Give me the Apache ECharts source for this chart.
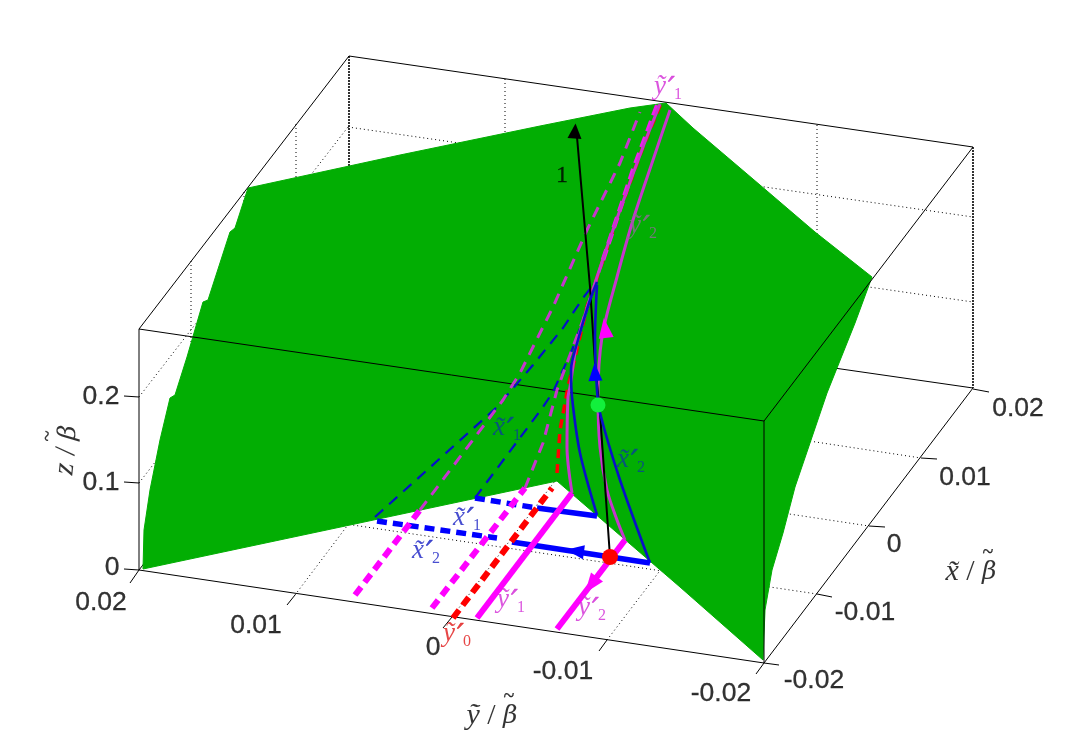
<!DOCTYPE html>
<html><head><meta charset="utf-8">
<style>html,body{margin:0;padding:0;background:#fff}#c{width:1076px;height:744px}</style>
<script src="https://cdn.jsdelivr.net/npm/echarts@6/dist/echarts.min.js"></script>
</head><body><div id="c"></div>
<script>
// All readings are in picture coordinates of the projected 3-D view.
const surfaceOutline = [[143,569],[144,530],[150,490],[160,440],[170,398],[175,395],[187,357],[203,302],[208,300],[230,232],[235,228],[248,188],[400,155],[540,126],[630,108],[666,103],[693,128],[760,185],[815,232],[872,277],[855,323],[837,368],[827,393],[810,443],[795,487],[783,533],[772,570],[765,610],[763,660],[680,587],[557,481]];

const boxBack = [[[348,298],[973,388]],[[348,298],[139,570]]];
const boxFront = [[[139,570],[764,663]],[[764,663],[973,388]],[[139,570],[139,329]],[[139,329],[764,421]],[[764,421],[764,663]],[[764,421],[973,147]],[[139,329],[349,56]],[[349,56],[973,147]]];
const boxDense = [[[349,56],[349,298]],[[973,147],[973,388]]];
const gridDotted = [
 [[139,483],[348,212]],[[139,397],[348,127]],[[348,212],[973,302]],[[348,127],[973,217]],
 [[191,261],[191,501]],[[244,192],[244,432]],[[296,124],[296,363]],
 [[505,79],[505,318]],[[661,101],[661,341]],[[817,125],[817,365]],
 [[191,501],[817,594]],[[244,432],[869,526]],[[296,363],[921,458]],
 [[295,595],[504,318]],[[452,617],[661,341]],[[607,640],[817,365]]];
const tickSegments = [
 [[139,570],[124,569]],[[139,483],[124,482]],[[139,397],[124,396]],
 [[139,570],[130,583]],[[295,595],[287,605]],[[452,617],[443,628]],[[607,640],[599,651]],[[764,663],[756,674]],
 [[764,663],[779,665]],[[817,594],[832,597]],[[869,526],[885,527]],[[921,458],[937,459]],[[973,389],[989,392]]];

const zTickLabels = [[101,397,'0.2'],[101,483,'0.1'],[112,568,'0']];
const yTickLabels = [[101,603,'0.02'],[256,626,'0.01'],[433,648,'0'],[563,672,'-0.01'],[721,694,'-0.02']];
const xTickLabels = [[1018,409,'0.02'],[965,478,'0.01'],[894,545,'0'],[865,613,'-0.01'],[814,681,'-0.02']];

const x2FloorDashed = [[377,521],[497,538]];
const x2FloorSolid = [[512,542],[650,563]];
const x1FloorDashed = [[475,498],[537,508]];
const x1FloorSolid = [[537,508],[597,516]];
const x2Curve = [[650,563],[620,480],[600,413],[597,390],[595,337],[597,285]];
const x1Curve = [[597,515],[580,453],[572,397],[571,370],[578,340],[590,300],[597,282]];
const x2Dashed = [[375,517],[497,407],[533,365],[563,328],[583,298],[597,280]];
const x1Dashed = [[475,498],[543,407],[553,392],[572,350],[587,310],[597,280]];

const y1Floor = [[477,618],[572,493]];
const y2Floor = [[557,629],[625,540]];
const y1Curve = [[572,493],[567,447],[568,397],[570,387],[577,343],[597,277],[620,210],[643,147],[660,104]];
const y2Curve = [[625,540],[617,520],[607,490],[600,447],[598,397],[602,337],[617,277],[633,220],[653,160],[670,110]];
const yaFloor = [[355,595],[420,510]];
const yaDashed = [[420,510],[503,400],[520,373],[553,307],[587,230],[620,163],[640,112]];
const ybFloor = [[432,608],[525,488]];
const ybDashed = [[525,488],[543,443],[557,390],[583,320],[603,260]];
const ybDashedUpper = [[603,260],[633,170],[658,103]];
const y0Floor = [[453,618],[552,488]];
const y0Dashed = [[557,473],[560,430],[568,387],[587,307],[620,210],[643,147],[661,103]];
const blackPath = [[610,557],[600,413],[595,363],[590,287],[577,137]];

const blackArrow = [[575,131,4]];
const blueArrows = [[595,372,-3],[575,551,-82]];
const magentaArrows = [[605,328,-7],[591,585,217]];
const redDot = [[610,557]];
const greenDot = [[598,405]];

const labelsBlue = [[467,518,'x\u0303','1'],[426,551,'x\u0303','2']];
const labelsBlueDim = [[507,428,'x\u0303','1'],[631,460,'x\u0303','2']];
const labelsMagenta = [[668,87,'\u1EF9','1'],[511,600,'\u1EF9','1'],[592,608,'\u1EF9','2']];
const labelsMagentaDim = [[643,226,'\u1EF9','2']];
const labelsRed = [[457,634,'\u1EF9','0']];
const labelOne = [[562,176,'1']];
const axisTitles = [[971,572,'x\u0303',0],[492,716,'\u1EF9',0],[67,450,'z',84]];
const betaTildes = [[988,553,'~',0],[509,697,'~',0],[48,436,'~',84]];

const BLUE='#0000ff', MAG='#ff00ff', RED='#ff0000', THINMAG='#c636cc', THINBLUE='#0510c8';
const SERIF='"Liberation Serif","DejaVu Serif",serif';
const DJ='"DejaVu Serif",serif';
const SANS='"Liberation Sans",Arial,sans-serif';

function path(name,data,color,width,type,z,smooth){
  return {name,type:'line',data,showSymbol:false,symbol:'none',silent:true,z,smooth:smooth||false,clip:false,animation:false,
    lineStyle:{color,width,type:type||'solid',cap:'butt',join:'round'}};
}
function texts(name,data,font,size,color,style,z){
  return {name,type:'scatter',data:data.map(d=>({value:[d[0],d[1]],name:d[2],label:{rotate:d[3]||0}})),symbolSize:0,silent:true,z:z||20,animation:false,
    label:{show:true,position:'inside',formatter:p=>p.name,fontFamily:font,fontSize:size,color,fontStyle:style||'normal',textBorderColor:color,textBorderWidth:0.3}};
}
function primed(name,data,color){
  return {name,type:'scatter',data:data.map(d=>({value:[d[0],d[1]],name:d[2]+'|'+d[3]})),symbolSize:0,silent:true,z:20,animation:false,
    label:{show:true,position:'inside',color,
      formatter:p=>{const a=p.name.split('|');return '{v|'+a[0]+'}{p|\u2032}{s|'+a[1]+'}';},
      rich:{v:{fontFamily:SERIF,fontStyle:'italic',fontSize:27,color,lineHeight:32,verticalAlign:'middle'},
            p:{fontFamily:DJ,fontStyle:'italic',fontSize:30,color,lineHeight:32,verticalAlign:'middle',padding:[7,0,0,3],textBorderColor:color,textBorderWidth:0.5,width:5},
            s:{fontFamily:SERIF,fontSize:16,color,lineHeight:32,verticalAlign:'bottom'}}}};
}
function titles(name,data){
  return {name,type:'scatter',data:data.map(d=>({value:[d[0],d[1]],name:d[2],label:{rotate:d[3]||0}})),symbolSize:0,silent:true,z:20,animation:false,
    label:{show:true,position:'inside',color:'#000',
      formatter:p=>'{v|'+p.name+'}{sl| / }{b|\u03B2}',
      rich:{v:{fontFamily:SERIF,fontStyle:'italic',fontSize:30,color:'#000'},
            sl:{fontFamily:SERIF,fontSize:30,color:'#000'},
            b:{fontFamily:DJ,fontStyle:'italic',fontSize:25,color:'#000'}}}};
}
function arrows(name,data,color,size){
  return {name,type:'scatter',symbol:'triangle',symbolSize:size,silent:true,z:16,animation:false,
    itemStyle:{color,opacity:1},
    data:data.map(d=>({value:[d[0],d[1]],symbolRotate:-d[2]}))};
}
const series=[];
gridDotted.forEach((s,i)=>series.push(path('grid'+i,s,'#000',1,[1,3],1)));
boxBack.forEach((s,i)=>series.push(path('back'+i,s,'#000',1,'solid',1)));
boxDense.forEach((s,i)=>series.push(path('dense'+i,s,'#000',1.6,[2,1],1)));
series.push({name:'surface',type:'custom',z:3,silent:true,animation:false,clip:false,
  data:surfaceOutline,
  renderItem:(params,api)=>{
    if(params.dataIndex!==0) return {type:'group',children:[]};
    return {type:'polygon',shape:{points:surfaceOutline.map(p=>api.coord(p))},style:{fill:'#02ae03',stroke:'#02ae03',lineWidth:1}};
  }});
boxFront.forEach((s,i)=>series.push(path('front'+i,s,'#000',1,'solid',4)));
tickSegments.forEach((s,i)=>series.push(path('tick'+i,s,'#000',1,'solid',4)));

series.push(path('x2Dashed',x2Dashed,THINBLUE,2.2,[11,8],6));
series.push(path('x1Dashed',x1Dashed,THINBLUE,2.2,[11,8],6));
series.push(path('yaDashed',yaDashed,THINMAG,3,[11,8],7));
series.push(path('y0Dashed',y0Dashed,RED,3.5,[9,6],7));
series.push(path('ybDashed',ybDashed,THINMAG,3,[11,8],8));
series.push(path('ybDashedUpper',ybDashedUpper,'#f01ef0',4.5,[11,6],8));
series.push(path('y1Curve',y1Curve,THINMAG,3,'solid',8,0.3));
series.push(path('y2Curve',y2Curve,THINMAG,3,'solid',8,0.3));
series.push(path('black',blackPath,'#000',2,'solid',9));
series.push(path('x1Curve',x1Curve,'#0a10c8',2.6,'solid',10,0.3));
series.push(path('x2Curve',x2Curve,'#0a10c8',2.6,'solid',10,0.3));
series.push(path('x2FloorDashed',x2FloorDashed,BLUE,5.5,[10,6],11));
series.push(path('x1FloorDashed',x1FloorDashed,BLUE,5.5,[10,6],11));
series.push(path('x2FloorSolid',x2FloorSolid,BLUE,5.5,'solid',11));
series.push(path('x1FloorSolid',x1FloorSolid,BLUE,5.5,'solid',11));
series.push(path('yaFloor',yaFloor,MAG,6,[10,6],12));
series.push(path('ybFloor',ybFloor,MAG,6,[10,6],12));
series.push(path('y0Floor',y0Floor,RED,6,[10,6],13));
series.push(path('y1Floor',y1Floor,MAG,6,'solid',12));
series.push(path('y2Floor',y2Floor,MAG,6,'solid',12));
series.push(arrows('blackArrow',blackArrow,'#000',[14,15]));
series.push(arrows('blueArrows',blueArrows,BLUE,[14,18]));
series.push(arrows('magentaArrows',magentaArrows,MAG,[15,20]));
series.push({name:'redDot',type:'scatter',data:redDot,symbolSize:16,silent:true,z:18,itemStyle:{color:RED,opacity:1},animation:false});
series.push({name:'greenDot',type:'scatter',data:greenDot,symbolSize:15,silent:true,z:18,itemStyle:{color:'#12f03c',opacity:1},animation:false});

series.push(texts('zTicks',zTickLabels,SANS,26.5,'#000'));
series.push(texts('yTicks',yTickLabels,SANS,26.5,'#000'));
series.push(texts('xTicks',xTickLabels,SANS,26.5,'#000'));
series.push(primed('labelsBlue',labelsBlue,'#1a22c4'));
series.push(primed('labelsBlueDim',labelsBlueDim,'#0a3f9a'));
series.push(primed('labelsMagenta',labelsMagenta,'#d22ad6'));
series.push(primed('labelsMagentaDim',labelsMagentaDim,'#8f6a95'));
series.push(primed('labelsRed',labelsRed,'#e01818'));
series.push(texts('labelOne',labelOne,SERIF,24,'#000'));
series.push(titles('axisTitles',axisTitles));
series.push(texts('betaTildes',betaTildes,SERIF,20,'#000'));

const chart=echarts.init(document.getElementById('c'),null,{renderer:'canvas'});
chart.setOption({
  animation:false,backgroundColor:'#fff',tooltip:{show:false},legend:{show:false},
  grid:{left:0,right:0,top:0,bottom:0},
  xAxis:{type:'value',min:0,max:1076,show:false},
  yAxis:{type:'value',min:0,max:744,inverse:true,show:false},
  series
});
</script></body></html>
